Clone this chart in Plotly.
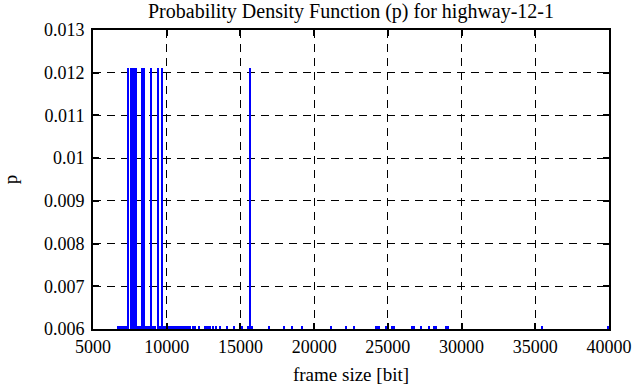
import plotly.graph_objects as go

# Tall impulses (frame size in bit, probability)
tall_x = [7420, 7560, 7680, 7800, 7920, 8360, 8500, 8930, 9410, 9680, 15650]
tall_p = [0.0121] * len(tall_x)

# Small impulses near the bottom of the visible range
small_x = [6700, 6820, 6950, 7050, 7180, 7300, 7700, 8050, 8200, 8650, 8800,
           9050, 9200, 9550, 9800, 9950, 10100, 10250, 10400, 10550, 10700,
           10850, 11000, 11150, 11300, 11450, 11600, 11800, 11950, 12200,
           12650, 12800, 12950, 13150, 13380, 13620, 14080, 14560, 15100,
           15550, 15800, 16930, 17950, 18500, 19170, 21150, 22160, 22700,
           24250, 24420, 24870, 25280, 25420, 26630, 26780, 27250, 27790,
           28130, 28270, 28950, 29100, 35450, 39960]
small_p = [0.00608] * len(small_x)

x_ticks = [5000, 10000, 15000, 20000, 25000, 30000, 35000, 40000]
x_labels = ["5000", "10000", "15000", "20000", "25000", "30000", "35000", "40000"]
y_ticks = [0.006, 0.007, 0.008, 0.009, 0.01, 0.011, 0.012, 0.013]
y_labels = ["0.006", "0.007", "0.008", "0.009", "0.01", "0.011", "0.012", "0.013"]

FONT = "'Liberation Serif', 'Times New Roman', serif"
BLUE = "#0000ff"

fig = go.Figure()
fig.add_trace(go.Bar(x=small_x, y=small_p, width=115, marker=dict(color=BLUE, line=dict(width=0)),
                     showlegend=False))
fig.add_trace(go.Bar(x=tall_x, y=tall_p, width=100, marker=dict(color=BLUE, line=dict(width=0)),
                     showlegend=False))

fig.update_layout(
    width=636, height=387,
    margin=dict(l=93, r=27, t=30, b=58, autoexpand=False),
    paper_bgcolor="white", plot_bgcolor="white",
    barmode="overlay", bargap=0,
    font=dict(family=FONT, size=18, color="black"),
    title=dict(text="Probability Density Function (p) for highway-12-1",
               x=351 / 636, xanchor="center", y=(387 - 11) / 387, yanchor="middle",
               font=dict(family=FONT, size=20, color="black")),
)
fig.update_xaxes(
    range=[5000, 40000], tickvals=x_ticks, ticktext=x_labels,
    showline=True, linecolor="black", linewidth=2, mirror="ticks",
    ticks="inside", ticklen=6, tickwidth=2, tickcolor="black",
    showgrid=True, gridcolor="black", gridwidth=1, griddash="8px,6px",
    zeroline=False, automargin=False,
    title=dict(text="frame size [bit]", standoff=12, font=dict(family=FONT, size=19)),
    tickfont=dict(family=FONT, size=18),
)
fig.update_yaxes(
    range=[0.006, 0.013], tickvals=y_ticks, ticktext=y_labels,
    showline=True, linecolor="black", linewidth=2, mirror="ticks",
    ticks="inside", ticklen=6, tickwidth=2, tickcolor="black",
    showgrid=True, gridcolor="black", gridwidth=1, griddash="8px,6px",
    zeroline=False, automargin=False, ticklabelstandoff=3,
    title=dict(text="p", standoff=28, font=dict(family=FONT, size=19)),
    tickfont=dict(family=FONT, size=18),
)

fig.write_html("out.html",
               config={"displayModeBar": False},
               post_script="document.body.style.margin='0';document.body.style.overflow='hidden';")
